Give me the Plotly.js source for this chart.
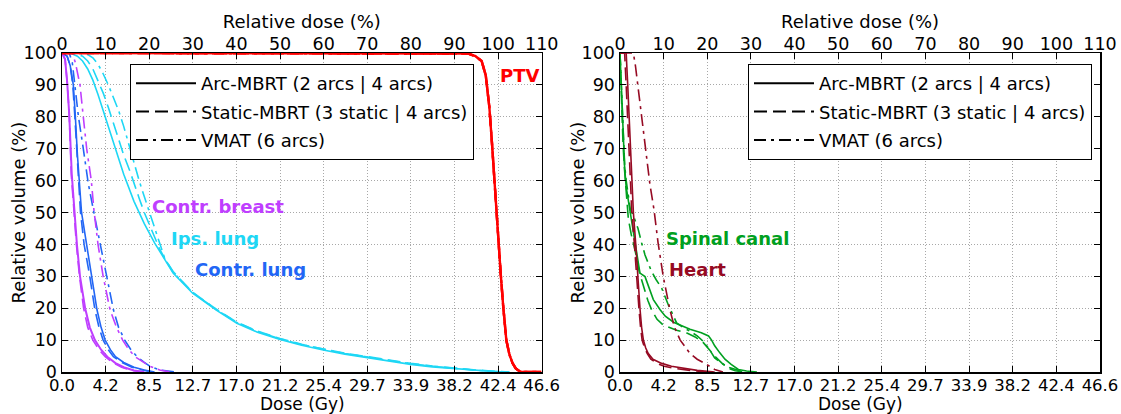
<!DOCTYPE html>
<html><head><meta charset="utf-8">
<script src="https://cdn.plot.ly/plotly-3.0.1.min.js"></script>
<style>html,body{margin:0;padding:0;background:#fff}#chart{width:1121px;height:414px}</style>
</head><body><div id="chart"></div>
<script>
// ---------- axis ticks ----------
const doseTickVals = [0, 4.24, 8.48, 12.72, 16.96, 21.2, 25.44, 29.68, 33.92, 38.16, 42.4, 46.64];
const doseTickText = ["0.0","4.2","8.5","12.7","17.0","21.2","25.4","29.7","33.9","38.2","42.4","46.6"];
const relTickVals = [0,10,20,30,40,50,60,70,80,90,100,110];
const volTickVals = [0,10,20,30,40,50,60,70,80,90,100];

// ---------- PTV ----------
const ptvDose = [0, 38.0, 39.5, 40.2, 40.8, 41.2, 41.55, 41.8, 42.0, 42.2, 42.4, 42.65, 42.9, 43.2, 43.5, 43.8, 44.1, 44.4, 44.7, 46.6];
const ptvVol  = [100, 100, 99.8, 99, 97.5, 93, 83, 72, 62, 52, 41.5, 31, 20.5, 10, 5.5, 2.8, 1.2, 0.4, 0, 0];

// ---------- Contralateral breast ----------
const breastArcDose    = [0, 0.3, 0.5, 0.7, 0.95, 1.1, 1.25, 1.45, 1.75, 2.25, 2.7, 3.2, 3.8, 4.4, 5.2, 6.0, 7.0, 8.0];
const breastArcVol     = [100, 98, 91, 81, 62, 55, 50, 40, 30, 20, 14, 10, 7, 4.8, 2.8, 1.5, 0.5, 0];
const breastStaticDose = [0, 0.3, 0.5, 0.7, 0.9, 1.05, 1.2, 1.4, 1.7, 2.1, 2.5, 3.0, 3.6, 4.2, 5.0, 5.8, 6.8, 7.8];
const breastStaticVol  = [100, 98, 91, 81, 62, 55, 50, 40, 30, 20, 14, 10, 7, 4.8, 2.8, 1.5, 0.5, 0];
const breastVmatDose   = [0, 1.0, 1.3, 1.75, 2.07, 2.4, 2.85, 3.1, 3.5, 4.0, 4.67, 5.3, 5.9, 6.5, 7.1, 8.0, 8.6, 9.5, 10.5];
const breastVmatVol    = [100, 100, 97, 90, 80, 70, 60, 51, 40, 30, 19.5, 14, 10, 7, 4.8, 2.8, 1.7, 0.6, 0];

// ---------- Contralateral lung ----------
const clungArcDose    = [0, 0.5, 0.8, 1.1, 1.3, 1.5, 1.9, 2.4, 2.9, 3.4, 3.8, 4.2, 4.7, 5.2, 6.0, 7.0, 8.0, 9.0];
const clungArcVol     = [100, 99, 96, 90, 80, 68, 50, 40, 30, 19.5, 14, 10, 7, 4.8, 3, 1.5, 0.6, 0];
const clungStaticDose = [0, 0.5, 0.8, 1.05, 1.25, 1.45, 1.8, 2.15, 2.7, 3.2, 3.6, 4.0, 4.5, 5.0, 5.8, 6.8, 7.8, 8.8];
const clungStaticVol  = [100, 99, 96, 90, 80, 68, 50, 40, 30, 19.5, 14, 10, 7, 4.8, 3, 1.5, 0.6, 0];
const clungVmatDose   = [0, 0.7, 1.0, 1.26, 1.6, 2.07, 2.56, 3.1, 3.7, 4.3, 5.0, 5.5, 6.1, 6.7, 7.3, 8.0, 8.6, 9.6, 11.0];
const clungVmatVol    = [100, 100, 97, 90, 80, 70, 59, 50, 40, 30, 19.5, 14, 10, 7, 4.8, 3, 1.7, 0.6, 0];

// ---------- Ipsilateral lung ----------
const ilungArcDose    = [0, 0.8, 1.5, 2.0, 2.5, 3.0, 3.5, 4.0, 5.0, 6.0, 7.0, 8.0, 9.0, 10.0, 10.8, 12.7, 15.0, 17.0, 19.0, 21.2, 23.3, 25.4, 27.5, 29.7, 31.8, 33.9, 36.0, 38.2, 40.0, 42.0, 43.5];
const ilungArcVol     = [100, 100, 99, 97.5, 95, 91.5, 87, 82, 72, 62, 53.5, 46.5, 40.5, 35, 31, 24.7, 19.4, 15.3, 12.5, 10.2, 8.4, 6.9, 5.6, 4.5, 3.4, 2.4, 1.6, 1.0, 0.5, 0.15, 0];
const ilungStaticDose = [0, 1.2, 2.0, 2.5, 3.0, 3.5, 4.0, 4.5, 5.0, 5.5, 6.0, 6.6, 7.0, 7.5, 8.0, 8.5, 9.0, 9.5, 10.0, 10.8, 12.7, 15.0, 17.0, 19.0, 21.2, 23.3, 25.4, 27.5, 29.7, 31.8, 33.9, 36.0, 38.2, 40.0, 42.0, 43.5];
const ilungStaticVol  = [100, 100, 99, 97.5, 95, 91.5, 87.5, 83, 78, 73, 68, 63, 59, 54.5, 50, 46, 42, 38.5, 35.5, 31.5, 25.0, 19.7, 15.6, 12.8, 10.5, 8.7, 7.2, 5.9, 4.8, 3.7, 2.7, 1.9, 1.2, 0.7, 0.25, 0];
const ilungVmatDose   = [0, 1.5, 2.5, 3.0, 3.5, 4.0, 4.5, 5.0, 5.5, 6.0, 6.6, 7.0, 7.5, 8.0, 8.5, 9.0, 9.5, 10.0, 10.8, 12.7, 15.0, 17.0, 19.0, 21.2, 23.3, 25.4, 27.5, 29.7, 31.8, 33.9, 36.0, 38.2, 40.0, 42.0, 43.5];
const ilungVmatVol    = [100, 100, 99.5, 98.5, 96.5, 93.5, 90, 86, 82, 77, 70, 65.5, 60, 55, 50, 45, 40, 35.5, 31.3, 24.9, 19.6, 15.5, 12.7, 10.4, 8.6, 7.1, 5.8, 4.7, 3.6, 2.6, 1.8, 1.1, 0.6, 0.2, 0];

// ---------- Heart ----------
const heartArcDose    = [0, 0.6, 0.75, 0.9, 1.05, 1.2, 1.3, 1.53, 1.72, 1.95, 2.1, 2.27, 2.5, 2.75, 3.2, 4.05, 5.0, 6.0, 7.5, 9.2];
const heartArcVol     = [100, 100, 90, 80, 70, 58, 50, 40, 30, 19.5, 14, 10, 7.5, 5.8, 4, 2.7, 1.8, 1.2, 0.5, 0];
const heartStaticDose = [0, 0.45, 0.6, 0.75, 0.9, 1.05, 1.15, 1.4, 1.6, 1.85, 2.0, 2.15, 2.4, 2.65, 3.0, 3.6, 4.3, 5.2, 6.8, 8.5];
const heartStaticVol  = [100, 100, 90, 80, 70, 58, 50, 40, 30, 19.5, 14, 10, 7.5, 5.8, 4, 2.7, 1.8, 1.2, 0.5, 0];
const heartVmatDose   = [0, 1.3, 1.5, 1.8, 2.1, 2.5, 2.9, 3.3, 3.7, 4.2, 4.85, 5.3, 5.85, 6.8, 7.5, 8.3, 9.2, 10.0];
const heartVmatVol    = [100, 100, 96, 88, 80, 70, 59, 51, 40.5, 30, 19.5, 14, 10, 5.8, 4, 2.6, 0.8, 0];

// ---------- Spinal canal ----------
const spinalArcDose    = [0, 0.1, 0.2, 0.3, 0.45, 0.6, 0.8, 0.97, 1.2, 1.46, 1.7, 1.94, 2.43, 3.24, 3.9, 4.4, 5.2, 6.0, 6.8, 7.9, 8.3, 8.6, 8.9, 9.2, 9.7, 10.2, 10.8, 11.5, 12.3, 13.3];
const spinalArcVol     = [100, 92, 83, 73, 64, 58, 54, 50, 45, 40, 35, 31, 29.9, 22.7, 19.5, 17.5, 15.6, 14.4, 13.4, 12.3, 11.8, 11.3, 10, 8.2, 6, 4, 2.4, 0.8, 0.3, 0];
const spinalStaticDose = [0, 0.1, 0.2, 0.3, 0.45, 0.6, 0.81, 1.1, 1.46, 1.9, 2.27, 2.7, 3.08, 3.6, 4.2, 5.0, 5.5, 6.5, 7.3, 8.1, 8.7, 9.2, 9.9, 10.5, 11.2, 12.0];
const spinalStaticVol  = [100, 90, 80, 71, 63, 57, 48, 43, 38.2, 31, 26.7, 22.5, 19.4, 16.5, 14.7, 13.6, 13.1, 12.2, 11, 9.2, 7, 5, 2.8, 1.2, 0.4, 0];
const spinalVmatDose   = [0, 0.1, 0.2, 0.3, 0.45, 0.6, 0.8, 1.0, 1.3, 1.75, 2.1, 2.43, 3.0, 3.5, 4.05, 4.7, 5.5, 6.2, 6.8, 7.5, 8.1, 8.7, 9.2, 10.0, 10.7, 12.0];
const spinalVmatVol    = [100, 91, 82, 73, 65, 60, 55, 51, 49, 45, 40.5, 36.7, 32, 29, 26.3, 21, 15.4, 13.8, 12.8, 11.3, 9.6, 7, 4.4, 2.5, 1.3, 0];

// ---------- labels / legend ----------
const legendNames = ["Arc-MBRT (2 arcs | 4 arcs)", "Static-MBRT (3 static | 4 arcs)", "VMAT (6 arcs)"];
const structLabels = ["PTV", "Contr. breast", "Ips. lung", "Contr. lung", "Spinal canal", "Heart"];
const axisTitles = {dose:'Dose (Gy)', rel:'Relative dose (%)', vol:'Relative volume (%)'};

// ---------- styling ----------
const C = {ptv:'#FF0000', breast:'#BF3EFF', ilung:'#1ED7F5', clung:'#2266F5', spinal:'#00A020', heart:'#960A23'};
const DASH = {solid:'solid', dashed:'13px,6px', dashdot:'12px,5px,3px,5px'};
const FONT = 'DejaVu Sans, Liberation Sans, sans-serif';
const FS = 18, TFS = 17.5, XTFS = 16.5;
const GRID = '#a8a8a8';

function line(x, y, color, dash, xa, ya, w) {
  return {type:'scatter', mode:'lines', x:x, y:y, xaxis:xa, yaxis:ya,
    line:{color:color, dash:DASH[dash], width:w||1.6}, showlegend:false, hoverinfo:'skip'};
}

const traces = [
  line(ilungArcDose, ilungArcVol, C.ilung, 'solid', 'x', 'y'),
  line(ilungStaticDose, ilungStaticVol, C.ilung, 'dashed', 'x', 'y'),
  line(ilungVmatDose, ilungVmatVol, C.ilung, 'dashdot', 'x', 'y'),
  line(clungArcDose, clungArcVol, C.clung, 'solid', 'x', 'y'),
  line(clungStaticDose, clungStaticVol, C.clung, 'dashed', 'x', 'y'),
  line(clungVmatDose, clungVmatVol, C.clung, 'dashdot', 'x', 'y'),
  line(breastArcDose, breastArcVol, C.breast, 'solid', 'x', 'y', 2),
  line(breastStaticDose, breastStaticVol, C.breast, 'dashed', 'x', 'y'),
  line(breastVmatDose, breastVmatVol, C.breast, 'dashdot', 'x', 'y'),
  line(ptvDose, ptvVol, C.ptv, 'solid', 'x', 'y', 2.4),
  line(ptvDose, ptvVol, C.ptv, 'dashed', 'x', 'y', 2.4),
  line(ptvDose, ptvVol, C.ptv, 'dashdot', 'x', 'y', 2.4),

  line(spinalArcDose, spinalArcVol, C.spinal, 'solid', 'x2', 'y2'),
  line(spinalStaticDose, spinalStaticVol, C.spinal, 'dashed', 'x2', 'y2'),
  line(spinalVmatDose, spinalVmatVol, C.spinal, 'dashdot', 'x2', 'y2'),
  line(heartArcDose, heartArcVol, C.heart, 'solid', 'x2', 'y2'),
  line(heartStaticDose, heartStaticVol, C.heart, 'dashed', 'x2', 'y2'),
  line(heartVmatDose, heartVmatVol, C.heart, 'dashdot', 'x2', 'y2'),
];

// legend entries (black reference lines), one legend per panel; they sit on the top (relative dose) axes
['legend','legend2'].forEach(function(lg, li){
  ['solid','dashed','dashdot'].forEach(function(d, i){
    traces.push({type:'scatter', mode:'lines', x:[null], y:[null],
      xaxis: li ? 'x4' : 'x3', yaxis: li ? 'y2' : 'y',
      name: legendNames[i], legend: lg, legendgroup: lg + i, showlegend:true,
      line:{color:'#000', dash:DASH[d], width:2}, hoverinfo:'skip'});
  });
});

const ML = 62, MR = 21, MT = 53, MB = 42, W = 1121, H = 414;
const PW = W - ML - MR, PH = H - MT - MB;
const d1 = [0, (541.7 - ML) / PW];
const d2 = [(620 - ML) / PW, 1];

function doseAxis(domain, anchor) {
  return {domain:domain, anchor:anchor, range:[0, 46.64], tickmode:'array',
    tickvals:doseTickVals, ticktext:doseTickText, ticks:'inside', ticklen:6, tickcolor:'#000',
    ticklabelstandoff:-2,
    showline:true, linecolor:'#000', linewidth:1.5, mirror:false, zeroline:false,
    showgrid:true, gridcolor:GRID, griddash:'1px,2px', gridwidth:1,
    tickfont:{family:FONT, size:XTFS, color:'#000'}};
}
function relAxis(over, anchor) {
  return {overlaying:over, anchor:anchor, side:'top', range:[0, 110], tickmode:'array',
    tickvals:relTickVals, ticks:'inside', ticklen:6, tickcolor:'#000', ticklabelstandoff:-5,
    showline:true, linecolor:'#000', linewidth:1.5, showgrid:false, zeroline:false,
    tickfont:{family:FONT, size:TFS, color:'#000'},
    title:{text:axisTitles.rel, font:{family:FONT, size:FS, color:'#000'}, standoff:0}};
}
function volAxis(anchor) {
  return {anchor:anchor, range:[0, 100], tickmode:'array', tickvals:volTickVals,
    ticks:'inside', ticklen:6, tickcolor:'#000', showline:true, linecolor:'#000', linewidth:1.5,
    mirror:'ticks', zeroline:false, showgrid:true, gridcolor:GRID, griddash:'1px,2px', gridwidth:1,
    tickfont:{family:FONT, size:TFS, color:'#000'}};
}

function legendBox(xpx) {
  return {x:(xpx - ML) / PW, y:1 - (64 - MT) / PH, xanchor:'left', yanchor:'top',
    bgcolor:'#fff', bordercolor:'#000', borderwidth:1, itemwidth:60, tracegroupgap:2,
    font:{family:FONT, size:FS, color:'#000'}, itemclick:false, itemdoubleclick:false};
}

function label(i, x, y, color, xref, yref) {
  return {text:'<b>' + structLabels[i] + '</b>', x:x, y:y, xref:xref, yref:yref,
    xanchor:'left', yanchor:'middle', showarrow:false,
    font:{family:FONT, size:FS, color:color}};
}
function yTitle(xpx) {
  return {text:axisTitles.vol, textangle:-90, x:(xpx - ML) / PW, y:0.5, xref:'paper', yref:'paper',
    xanchor:'center', yanchor:'middle', showarrow:false,
    font:{family:FONT, size:FS, color:'#000'}};
}
function xTitle(xpx) {
  return {text:axisTitles.dose, x:(xpx - ML) / PW, y:-(404 - (H - MB)) / PH, xref:'paper', yref:'paper',
    xanchor:'center', yanchor:'middle', showarrow:false, borderpad:0,
    font:{family:FONT, size:17, color:'#000'}};
}

const layout = {
  width:W, height:H, margin:{l:ML, r:MR, t:MT, b:MB},
  paper_bgcolor:'#fff', plot_bgcolor:'#fff', hovermode:false,
  font:{family:FONT, size:FS, color:'#000'},
  xaxis: doseAxis(d1, 'y'),
  xaxis2: doseAxis(d2, 'y2'),
  xaxis3: relAxis('x', 'y'),
  xaxis4: relAxis('x2', 'y2'),
  yaxis: volAxis('x'),
  yaxis2: volAxis('x2'),
  legend: legendBox(130),
  legend2: legendBox(748),
  annotations: [
    yTitle(18), yTitle(577), xTitle(302), xTitle(860),
    label(0, 42.4, 92.8, C.ptv, 'x', 'y'),
    label(1, 8.6, 52, C.breast, 'x', 'y'),
    label(2, 10.4, 42, C.ilung, 'x', 'y'),
    label(3, 12.7, 32, C.clung, 'x', 'y'),
    label(4, 4.3, 42, C.spinal, 'x2', 'y2'),
    label(5, 4.6, 32, C.heart, 'x2', 'y2')
  ]
};

Plotly.newPlot('chart', traces, layout, {displayModeBar:false, staticPlot:true});
</script></body></html>
